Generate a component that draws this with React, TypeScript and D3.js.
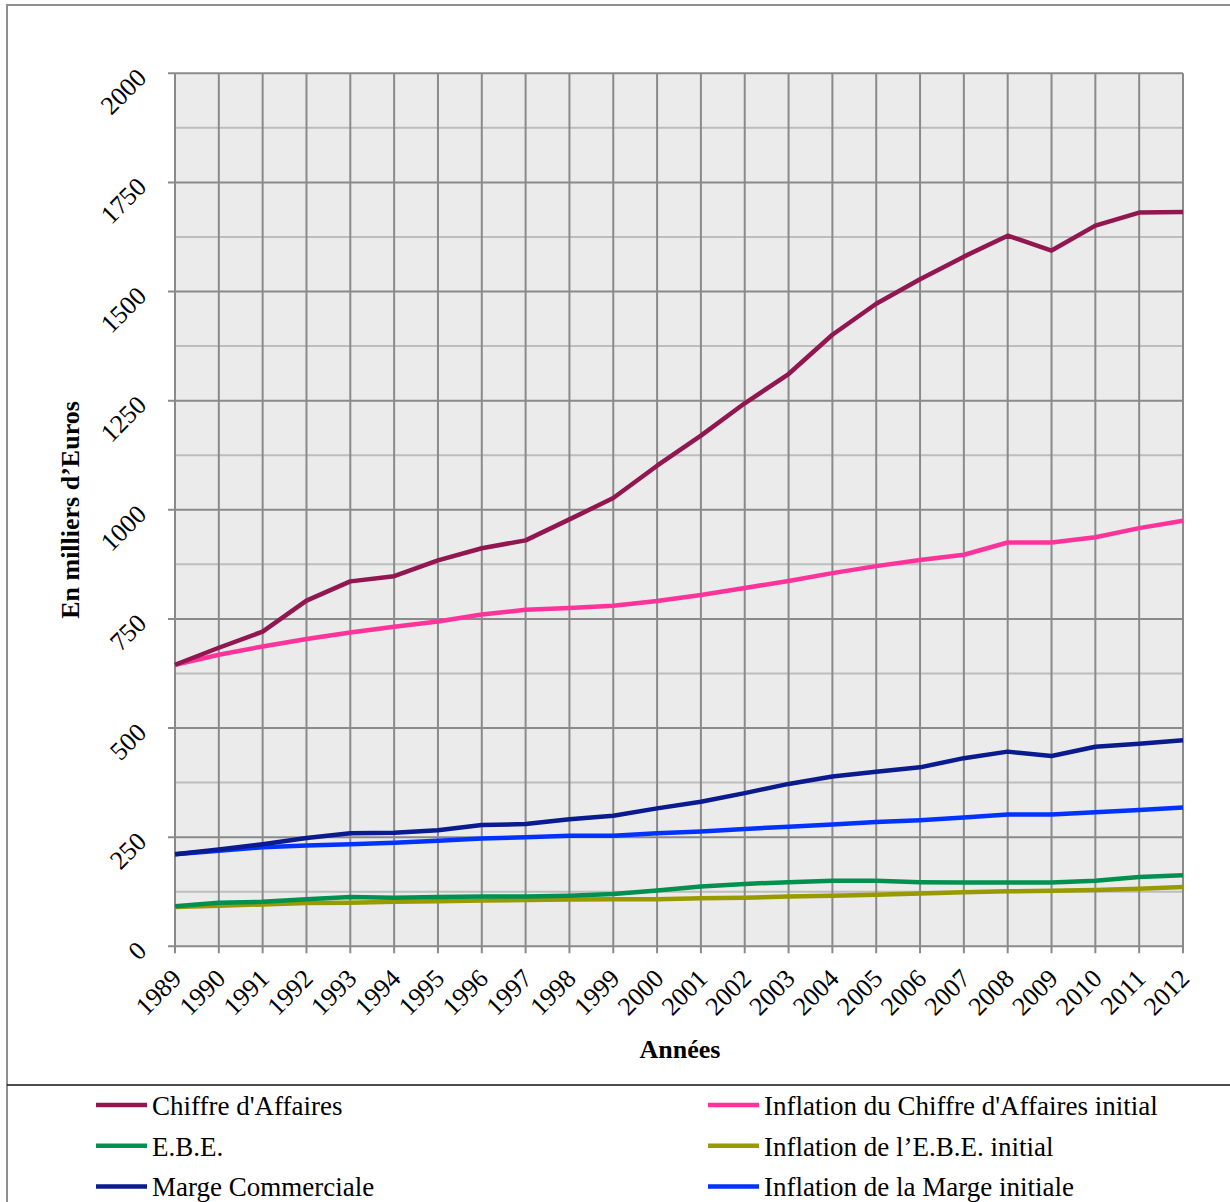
import React from "react";
import * as d3 from "d3";

// Years on the x axis
const years: number[] = [
  1989, 1990, 1991, 1992, 1993, 1994, 1995, 1996, 1997, 1998, 1999, 2000,
  2001, 2002, 2003, 2004, 2005, 2006, 2007, 2008, 2009, 2010, 2011, 2012,
];

// Series values, in thousands of euros
const chiffreAffaires: number[] = [
  645, 684, 721, 792, 836, 848, 884, 912, 930, 978, 1027, 1101,
  1170, 1244, 1311, 1401, 1472, 1528, 1580, 1628, 1594, 1651, 1681, 1682,
];
const inflationCA: number[] = [
  645, 668, 687, 704, 719, 732, 744, 760, 771, 775, 780, 791,
  805, 821, 837, 855, 871, 885, 897, 925, 925, 937, 958, 975,
];
const ebe: number[] = [
  92, 100, 102, 108, 113, 111, 113, 114, 114, 116, 120, 128,
  137, 143, 147, 150, 150, 147, 146, 146, 146, 150, 159, 163,
];
const inflationEBE: number[] = [
  90, 93, 96, 99, 100, 102, 103, 105, 106, 107, 108, 108,
  110, 111, 114, 116, 118, 121, 124, 126, 127, 129, 132, 136,
];
const margeCommerciale: number[] = [
  211, 222, 234, 248, 259, 260, 266, 278, 280, 291, 299, 316,
  331, 351, 372, 389, 400, 410, 431, 446, 436, 457, 464, 472,
];
const inflationMarge: number[] = [
  211, 219, 227, 231, 234, 237, 242, 247, 250, 253, 253, 259,
  263, 269, 274, 279, 285, 289, 295, 302, 302, 307, 312, 318,
];

// Axis ticks
const yTicks: number[] = [0, 250, 500, 750, 1000, 1250, 1500, 1750, 2000];
const yMinorTicks: number[] = [125, 375, 625, 875, 1125, 1375, 1625, 1875];

const seriesNames: string[] = [
  "Chiffre d'Affaires",
  "Inflation du Chiffre d'Affaires initial",
  "E.B.E.",
  "Inflation de l\u2019E.B.E. initial",
  "Marge Commerciale",
  "Inflation de la Marge initiale",
];
const seriesColors: string[] = [
  "#921650", "#ff3399", "#009150", "#999900", "#0a1a8f", "#0033ff",
];
const seriesValues: number[][] = [
  chiffreAffaires, inflationCA, ebe, inflationEBE, margeCommerciale, inflationMarge,
];

// Drawing order (bottom to top)
const drawOrder = [3, 2, 5, 4, 1, 0];

const FONT = "'Liberation Serif', 'Times New Roman', serif";

export default function App() {
  const left = 175;
  const right = 1183;
  const top = 73.3;
  const bottom = 946.3;

  const x = d3.scaleLinear().domain([years[0], years[years.length - 1]]).range([left, right]);
  const y = d3.scaleLinear().domain([0, 2000]).range([bottom, top]);

  const line = d3
    .line<number>()
    .x((_, i) => x(years[i]))
    .y((d) => y(d));

  const gridDark = "#8a8a8a";
  const gridLight = "#bdbdbd";

  return (
    <svg
      width={1230}
      height={1202}
      style={{ position: "absolute", left: 0, top: 0, background: "#fff" }}
    >
      {/* outer frame */}
      <rect x={7} y={5} width={1240} height={1220} fill="#fff" stroke="#8f8f8f" strokeWidth={2} />
      <line x1={7} x2={1230} y1={1085} y2={1085} stroke="#111" strokeWidth={1.5} />

      {/* plot background */}
      <rect x={left} y={top} width={right - left} height={bottom - top} fill="#ebebeb" />

      {/* minor horizontal gridlines */}
      {yMinorTicks.map((t) => (
        <line key={"m" + t} x1={left} x2={right} y1={y(t)} y2={y(t)} stroke={gridLight} strokeWidth={2} />
      ))}
      {/* vertical gridlines with tick marks */}
      {years.map((yr) => (
        <line key={"v" + yr} x1={x(yr)} x2={x(yr)} y1={top} y2={bottom + 7} stroke={gridDark} strokeWidth={2} />
      ))}
      {/* major horizontal gridlines with tick marks */}
      {yTicks.map((t) => (
        <line key={"h" + t} x1={left - 7} x2={right} y1={y(t)} y2={y(t)} stroke={gridDark} strokeWidth={2} />
      ))}

      {/* series */}
      {drawOrder.map((i) => (
        <path
          key={seriesNames[i]}
          d={line(seriesValues[i]) || ""}
          fill="none"
          stroke={seriesColors[i]}
          strokeWidth={4.5}
          strokeLinejoin="round"
        />
      ))}

      {/* y tick labels */}
      {yTicks.map((t) => (
        <text
          key={"yl" + t}
          transform={`translate(${148},${y(t) + 6}) rotate(-45)`}
          textAnchor="end"
          fontFamily={FONT}
          fontSize={26}
          fill="#000"
        >
          {t}
        </text>
      ))}

      {/* x tick labels */}
      {years.map((yr) => (
        <text
          key={"xl" + yr}
          transform={`translate(${x(yr) + 8},${980}) rotate(-45)`}
          textAnchor="end"
          fontFamily={FONT}
          fontSize={26}
          fill="#000"
        >
          {yr}
        </text>
      ))}

      {/* axis titles */}
      <text
        x={680}
        y={1058}
        textAnchor="middle"
        fontFamily={FONT}
        fontSize={26}
        fontWeight="bold"
      >
        Années
      </text>
      <text
        transform={`translate(${79},${510}) rotate(-90)`}
        textAnchor="middle"
        fontFamily={FONT}
        fontSize={26}
        fontWeight="bold"
      >
        En milliers d’Euros
      </text>

      {/* legend */}
      {seriesNames.map((name, i) => {
        const col = i % 2;
        const row = Math.floor(i / 2);
        const sx = col === 0 ? 96 : 708;
        const sy = 1105 + row * 40.7;
        return (
          <g key={"lg" + i}>
            <line x1={sx} x2={sx + 51} y1={sy} y2={sy} stroke={seriesColors[i]} strokeWidth={4.5} />
            <text x={sx + 56} y={sy + 10} fontFamily={FONT} fontSize={27} fill="#000">
              {name}
            </text>
          </g>
        );
      })}
    </svg>
  );
}
